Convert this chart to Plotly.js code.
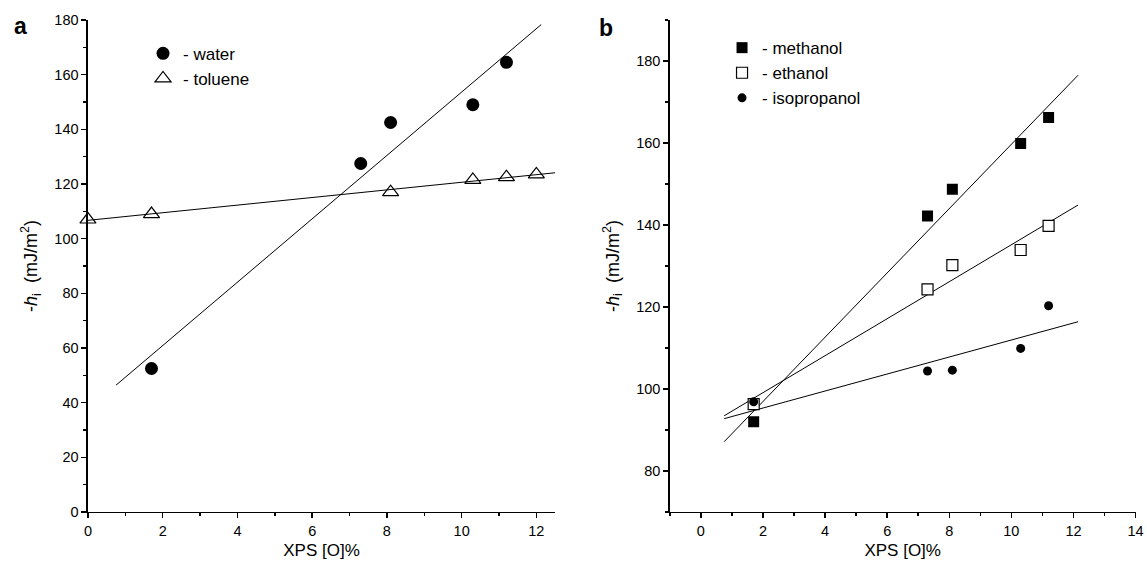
<!DOCTYPE html>
<html>
<head>
<meta charset="utf-8">
<script src="https://cdn.plot.ly/plotly-3.0.1.min.js"></script>
<style>html,body{margin:0;padding:0;background:#fff;}#chart{width:1147px;height:568px;}</style>
</head>
<body>
<div id="chart"></div>
<script>
// Panel a data
const xWater = [1.7, 7.3, 8.1, 10.3, 11.2];
const yWater = [52.5, 127.5, 142.5, 149, 164.5];
const xToluene = [0, 1.7, 8.1, 10.3, 11.2, 12];
const yToluene = [107, 109, 117, 121.5, 122.5, 123.5];
// Panel b data
const xAlcohol = [1.7, 7.3, 8.1, 10.3, 11.2];
const yMethanol = [92, 142.2, 148.7, 159.9, 166.2];
const yEthanol = [96.3, 124.3, 130.2, 133.9, 139.8];
const yIsopropanol = [96.9, 104.4, 104.6, 109.9, 120.3];
// Fit line extents (x)
const fitWaterX = [0.75, 12.13];
const fitTolueneX = [0, 12.5];
const fitAlcoholX = [0.75, 12.15];

function linfit(x, y, ext) {
  const n = x.length;
  const mx = x.reduce((a, b) => a + b, 0) / n;
  const my = y.reduce((a, b) => a + b, 0) / n;
  let sxy = 0, sxx = 0;
  for (let i = 0; i < n; i++) { sxy += (x[i] - mx) * (y[i] - my); sxx += (x[i] - mx) ** 2; }
  const m = sxy / sxx, c = my - m * mx;
  return { x: ext, y: ext.map(v => c + m * v) };
}

const FONT = 'Liberation Sans, Arial, sans-serif';
const lineStyle = { color: '#000', width: 1 };

function fitTrace(x, y, ext, xa, ya) {
  const f = linfit(x, y, ext);
  return { x: f.x, y: f.y, mode: 'lines', line: lineStyle, xaxis: xa, yaxis: ya, showlegend: false, hoverinfo: 'skip' };
}

const traces = [
  fitTrace(xWater, yWater, fitWaterX, 'x', 'y'),
  fitTrace(xToluene, yToluene, fitTolueneX, 'x', 'y'),
  { x: xWater, y: yWater, mode: 'markers', name: '- water', xaxis: 'x', yaxis: 'y', legend: 'legend',
    marker: { symbol: 'circle', size: 13, color: '#000' }, cliponaxis: false },
  { x: xToluene, y: yToluene, mode: 'markers', name: '- toluene', xaxis: 'x', yaxis: 'y', legend: 'legend',
    marker: { symbol: 'triangle-up-open', size: 14, color: '#000', line: { width: 1.2, color: '#000' } }, cliponaxis: false },
  fitTrace(xAlcohol, yMethanol, fitAlcoholX, 'x2', 'y2'),
  fitTrace(xAlcohol, yEthanol, fitAlcoholX, 'x2', 'y2'),
  fitTrace(xAlcohol, yIsopropanol, fitAlcoholX, 'x2', 'y2'),
  { x: xAlcohol, y: yMethanol, mode: 'markers', name: '- methanol', xaxis: 'x2', yaxis: 'y2', legend: 'legend2',
    marker: { symbol: 'square', size: 11, color: '#000' } },
  { x: xAlcohol, y: yEthanol, mode: 'markers', name: '- ethanol', xaxis: 'x2', yaxis: 'y2', legend: 'legend2',
    marker: { symbol: 'square', size: 11, color: '#fff', line: { width: 1.2, color: '#000' } } },
  { x: xAlcohol, y: yIsopropanol, mode: 'markers', name: '- isopropanol', xaxis: 'x2', yaxis: 'y2', legend: 'legend2',
    marker: { symbol: 'circle', size: 9, color: '#000' } }
];

const tickFont = { family: FONT, size: 14.5, color: '#000' };
const xTitleFont = { family: FONT, size: 17, color: '#000' };
const yTitleFont = { family: FONT, size: 18, color: '#000' };
const ytitle = '-<i>h</i><sub>i</sub>  (mJ/m<sup>2</sup>)';

function xAxis(domain, range, anchor) {
  return {
    domain: domain, range: range, anchor: anchor, showgrid: false, zeroline: false,
    showline: true, linecolor: '#000', linewidth: 1.5, ticks: 'outside', ticklen: 5, tickwidth: 1.5, tickcolor: '#000',
    dtick: 2, tick0: 0, tickfont: tickFont,
    minor: { dtick: 1, tick0: 0, ticks: 'outside', ticklen: 3, tickwidth: 1.5, tickcolor: '#000' },
    title: { text: 'XPS [O]%', font: xTitleFont, standoff: 6 }
  };
}
function yAxis(range, anchor) {
  return {
    domain: [0.0986, 0.9648], range: range, anchor: anchor, showgrid: false, zeroline: false,
    showline: true, linecolor: '#000', linewidth: 1.5, ticks: 'outside', ticklen: 5, tickwidth: 1.5, tickcolor: '#000',
    dtick: 20, tick0: 0, tickfont: tickFont,
    minor: { dtick: 10, tick0: 0, ticks: 'outside', ticklen: 3, tickwidth: 1.5, tickcolor: '#000' },
    title: { text: ytitle, font: yTitleFont, standoff: 12 }
  };
}

const legendBase = { bgcolor: 'rgba(0,0,0,0)', borderwidth: 0, font: { family: FONT, size: 17, color: '#000' },
  xanchor: 'left', yanchor: 'top', tracegroupgap: 0, itemclick: false };

const layout = {
  width: 1147, height: 568,
  margin: { l: 0, r: 0, t: 0, b: 0 },
  paper_bgcolor: '#fff', plot_bgcolor: '#fff',
  font: { family: FONT, color: '#000' },
  xaxis: xAxis([0.0767, 0.4839], [0, 12.5], 'y'),
  yaxis: yAxis([0, 180], 'x'),
  xaxis2: xAxis([0.584, 0.990], [-1, 14], 'y2'),
  yaxis2: yAxis([70, 190], 'x2'),
  legend: Object.assign({}, legendBase, { x: 0.1247, y: 0.937 }),
  legend2: Object.assign({}, legendBase, { x: 0.6295, y: 0.947 }),
  annotations: [
    { text: '<b>a</b>', xref: 'paper', yref: 'paper', x: 0.018, y: 0.955, xanchor: 'center', yanchor: 'middle', showarrow: false, font: { family: FONT, size: 23, color: '#000' } },
    { text: '<b>b</b>', xref: 'paper', yref: 'paper', x: 0.528, y: 0.95, xanchor: 'center', yanchor: 'middle', showarrow: false, font: { family: FONT, size: 23, color: '#000' } }
  ]
};

Plotly.newPlot('chart', traces, layout, { displayModeBar: false, staticPlot: true });
</script>
</body>
</html>
